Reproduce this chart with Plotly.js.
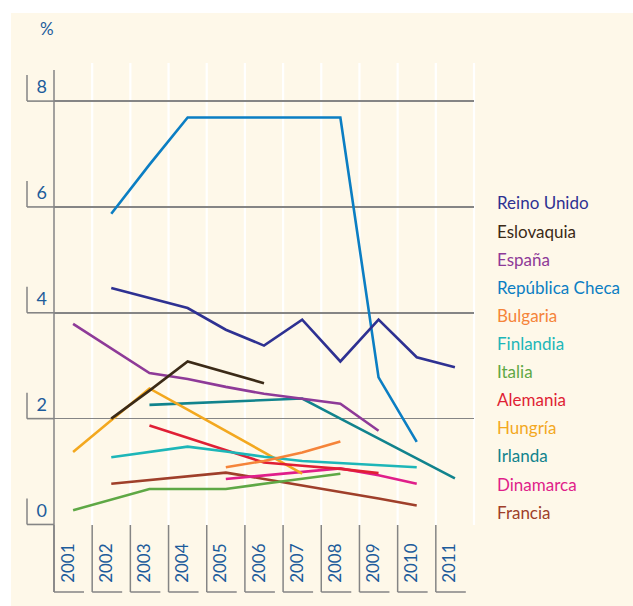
<!DOCTYPE html>
<html>
<head>
<meta charset="utf-8">
<script src="https://cdn.plot.ly/plotly-3.0.1.min.js"></script>
<style>
html,body{margin:0;padding:0;background:#ffffff;}
#chart{width:633px;height:606px;}
</style>
</head>
<body>
<div id="chart"></div>
<script>
// ---- data ----
const years = [2001, 2002, 2003, 2004, 2005, 2006, 2007, 2008, 2009, 2010, 2011];
const yearLabels = ["2001","2002","2003","2004","2005","2006","2007","2008","2009","2010","2011"];
const yTicks = [0, 2, 4, 6, 8];
const yTickLabels = ["0", "2", "4", "6", "8"];

const reinoUnido   = [null, 4.47, 4.28, 4.09, 3.68, 3.38, 3.87, 3.08, 3.87, 3.16, 2.97];
const eslovaquia   = [null, 2.00, 2.53, 3.08, 2.88, 2.67, null, null, null, null, null];
const espana       = [3.79, 3.33, 2.86, 2.75, 2.60, 2.47, 2.38, 2.28, 1.77, null, null];
const republicaCheca = [null, 5.87, 6.80, 7.69, 7.69, 7.69, 7.69, 7.69, 2.78, 1.56, null];
const bulgaria     = [null, null, null, null, 1.08, 1.20, 1.36, 1.57, null, null, null];
const finlandia    = [null, 1.27, 1.37, 1.47, 1.38, 1.28, 1.20, 1.16, 1.12, 1.08, null];
const italia       = [0.27, 0.47, 0.67, 0.67, 0.67, 0.77, 0.87, 0.96, null, null, null];
const alemania     = [null, null, 1.87, 1.64, 1.40, 1.17, 1.11, 1.05, 0.97, null, null];
const hungria      = [1.37, 1.97, 2.57, 2.17, 1.77, 1.36, 0.96, null, null, null, null];
const irlanda      = [null, null, 2.26, 2.29, 2.32, 2.35, 2.38, 2.00, 1.62, 1.25, 0.87];
const dinamarca    = [null, null, null, null, 0.86, 0.93, 1.00, 1.06, 0.93, 0.77, null];
const francia      = [null, 0.77, 0.84, 0.91, 0.98, 0.86, 0.74, 0.62, 0.49, 0.36, null];

const seriesNames = ["Reino Unido","Eslovaquia","España","República Checa","Bulgaria","Finlandia",
                     "Italia","Alemania","Hungría","Irlanda","Dinamarca","Francia"];
const seriesValues = [reinoUnido, eslovaquia, espana, republicaCheca, bulgaria, finlandia,
                      italia, alemania, hungria, irlanda, dinamarca, francia];
const seriesColors = ["#2e3192","#3b2a17","#8e3a98","#0b7ec3","#f5843a","#1db6b8",
                      "#5ea845","#e01f35","#f3a81f","#11838d","#e01e8a","#9f3f2a"];

// ---- geometry helpers (styling only) ----
const W = 633, H = 606;
const mL = 54, mR = 159, mT = 63, mB = 81;
const pw = W - mL - mR, ph = H - mT - mB;
const xMin = 2000.5, xMax = 2011.5;
const yMin = -0.01, yMax = 8.72;
const px2xp = px => (px - mL) / pw;
const py2yp = py => (H - mB - py) / ph;
const yv2yp = v => (v - yMin) / (yMax - yMin);
const xv2xp = v => (v - xMin) / (xMax - xMin);

const textBlue = "#1d5c9b";
const gray = "#858585";
const cream = "#fef8e9";
const FONT = "Lato, 'Noto Sans', sans-serif";

const shapes = [];
// cream background
shapes.push({type:"rect", xref:"paper", yref:"paper", layer:"below",
  x0:px2xp(11), x1:px2xp(640), y0:py2yp(13), y1:py2yp(612),
  fillcolor:cream, line:{width:0}});
// white vertical column gridlines
for (let k = 1; k <= years.length; k++) {
  const xp = xv2xp(xMin + k);
  shapes.push({type:"line", xref:"paper", yref:"paper", layer:"below",
    x0:xp, x1:xp, y0:0, y1:1, line:{color:"#ffffff", width:2.2}});
}
// left axis line
shapes.push({type:"line", xref:"paper", yref:"paper", layer:"above",
  x0:0, x1:0, y0:py2yp(70), y1:py2yp(592), line:{color:gray, width:1.5}});
// y label brackets
yTicks.forEach(v => {
  const yp = yv2yp(v);
  shapes.push({type:"line", xref:"paper", yref:"paper", layer:"above",
    x0:px2xp(27), x1:0, y0:yp, y1:yp, line:{color:gray, width:1.6}});
  shapes.push({type:"line", xref:"paper", yref:"paper", layer:"above",
    x0:px2xp(27), x1:px2xp(27), y0:yp, y1:yp + 26/ph, line:{color:gray, width:1.5}});
});
// x label brackets
years.forEach((yr, i) => {
  const xl = xv2xp(yr - 0.5);
  shapes.push({type:"line", xref:"paper", yref:"paper", layer:"above",
    x0:xl, x1:xl, y0:0, y1:py2yp(592), line:{color:gray, width:1.5}});
  shapes.push({type:"line", xref:"paper", yref:"paper", layer:"above",
    x0:xl, x1:xl + 30/pw, y0:py2yp(592), y1:py2yp(592), line:{color:gray, width:1.5}});
});

// traces (draw in reverse so top legend entries end on top)
const traces = [];
for (let i = seriesNames.length - 1; i >= 0; i--) {
  traces.push({type:"scatter", mode:"lines", name:seriesNames[i],
    x:years, y:seriesValues[i], connectgaps:false,
    line:{color:seriesColors[i], width:2.6}, hoverinfo:"skip"});
}

// legend as coloured text
const annotations = seriesNames.map((n, i) => ({
  text:n, xref:"paper", yref:"paper", x:px2xp(495), y:py2yp(203 + i*28.1),
  xanchor:"left", yanchor:"middle", showarrow:false,
  font:{family:FONT, size:17, color:seriesColors[i]}
}));
annotations.push({text:"%", xref:"paper", yref:"paper", x:px2xp(47), y:py2yp(28),
  xanchor:"center", yanchor:"middle", showarrow:false,
  font:{family:FONT, size:17, color:textBlue}});

const layout = {
  width:W, height:H,
  margin:{l:mL, r:mR, t:mT, b:mB, pad:0},
  paper_bgcolor:"#ffffff",
  plot_bgcolor:"rgba(0,0,0,0)",
  showlegend:false,
  hovermode:false,
  font:{family:FONT, color:textBlue},
  xaxis:{range:[xMin, xMax], tickmode:"array", tickvals:years, ticktext:yearLabels,
    tickangle:-90, showgrid:false, zeroline:false, showline:false, ticks:"",
    ticklabelstandoff:14, ticklabelshift:-5,
    tickfont:{family:FONT, size:17, color:textBlue}, fixedrange:true},
  yaxis:{range:[yMin, yMax], tickmode:"array", tickvals:yTicks, ticktext:yTickLabels,
    showgrid:true, gridcolor:gray, gridwidth:1.6, zeroline:false, showline:false, ticks:"",
    ticklabelstandoff:6, ticklabelshift:-14,
    tickfont:{family:FONT, size:18, color:textBlue}, fixedrange:true},
  shapes:shapes,
  annotations:annotations
};

Plotly.newPlot("chart", traces, layout, {staticPlot:true, displayModeBar:false});
</script>
</body>
</html>
